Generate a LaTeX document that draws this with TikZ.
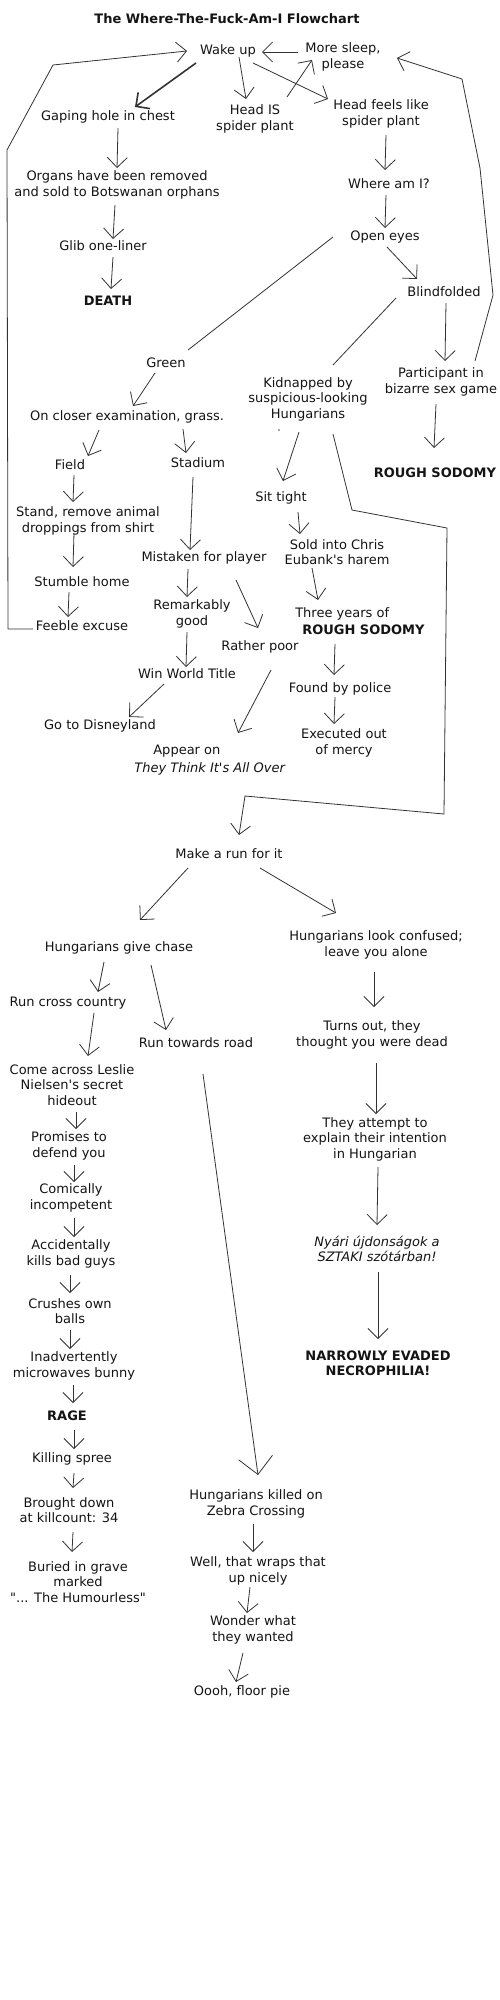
\documentclass[tikz,border=0pt]{standalone}
\usepackage{fontspec}
\newfontfamily\flowfont{DejaVu Sans}
\newcommand{\chartfont}{\flowfont\fontsize{13}{15.5}\selectfont}
\usetikzlibrary{arrows.meta,calc}

\begin{document}
\begin{tikzpicture}[
    x=1pt,y=-1pt,
    lbl/.style={align=center,inner sep=2pt,text=black!92,font=\chartfont},
    arr/.style={->,draw=black!80,line width=0.8pt,line join=round},
    plain/.style={draw=black!80,line width=0.8pt},
    big/.style={>={Straight Barb[length=17pt,width=34pt]}},
    >={Straight Barb[length=10pt,width=20pt]}
]
\fill[white] (0,0) rectangle (500,2000);
\useasboundingbox (0,0) rectangle (500,2000);

% top: waking up
\node[lbl] (title) at (227,19) {\textbf{The Where-The-Fuck-Am-I Flowchart}};
\node[lbl] (wake) at (228,51) {Wake up};
\node[lbl] (sleep) at (343,57) {More sleep,\\please};
\node[lbl] (gaping) at (108,117) {Gaping hole in chest};
\node[lbl] (headis) at (255,119) {Head IS\\spider plant};
\node[lbl] (headfeels) at (381,114) {Head feels like\\spider plant};
\node[lbl] (organs) at (117,185) {Organs have been removed\\and sold to Botswanan orphans};
\node[lbl] (where) at (389,184) {Where am I?};
\node[lbl] (glib) at (103,246) {Glib one-liner};
\node[lbl] (open) at (385,237) {Open eyes};
\node[lbl] (death) at (108,301) {\textbf{DEATH}};
\node[lbl] (blind) at (444,292) {Blindfolded};

% green / blindfolded branches
\node[lbl] (green) at (166,363) {Green};
\node[lbl] (kidnap) at (308,399) {Kidnapped by\\suspicious-looking\\Hungarians};
\node[lbl] (part) at (441,382) {Participant in\\bizarre sex game};
\node[lbl] (closer) at (127,417) {On closer examination, grass.};
\node[lbl] (field) at (70,465) {Field};
\node[lbl] (stadium) at (198,463) {Stadium};
\node[lbl] (sodomy) at (435,473) {\textbf{ROUGH SODOMY}};
\fill[black!70] (279,430) circle (0.9);
\node[lbl] (sit) at (281,498) {Sit tight};
\node[lbl] (stand) at (88,521) {Stand, remove animal\\droppings from shirt};
\node[lbl] (mistaken) at (204,558) {Mistaken for player};
\node[lbl] (sold) at (337,552) {Sold into Chris\\Eubank's harem};
\node[lbl] (stumble) at (82,582) {Stumble home};
\node[lbl] (remark) at (192,614) {Remarkably\\good};
\node[lbl,align=left] (three) at (360,621) {Three years of\\[2pt]\hspace*{7pt}\textbf{ROUGH SODOMY}};
\node[lbl] (feeble) at (82,626) {Feeble excuse};
\node[lbl] (poor) at (260,647) {Rather poor};
\node[lbl] (win) at (187,674) {Win World Title};
\node[lbl] (police) at (340,689) {Found by police};
\node[lbl] (disney) at (100,726) {Go to Disneyland};
\node[lbl] (executed) at (344,743) {Executed out\\of mercy};
\node[lbl,align=left] (appear) at (210,760) {\hspace*{19pt}Appear on\\[2pt]\textit{They Think It's All Over}};

% the escape
\node[lbl] (run) at (229,854) {Make a run for it};
\node[lbl] (chase) at (119,948) {Hungarians give chase};
\node[lbl] (confused) at (376,945) {Hungarians look confused;\\leave you alone};
\node[lbl] (cross) at (68,1003) {Run cross country};
\node[lbl] (road) at (196,1043) {Run towards road};
\node[lbl] (dead) at (372,1035) {Turns out, they\\thought you were dead};
\node[lbl] (leslie) at (72,1085) {Come across Leslie\\Nielsen's secret\\hideout};
\node[lbl] (explain) at (375,1139) {They attempt to\\explain their intention\\in Hungarian};
\node[lbl] (promise) at (69,1146) {Promises to\\defend you};
\node[lbl] (comic) at (71,1198) {Comically\\incompetent};
\node[lbl,font=\chartfont\itshape] (sztaki) at (377,1249) {Nyári újdonságok a\\SZTAKI szótárban!};
\node[lbl] (kills) at (71,1254) {Accidentally\\kills bad guys};
\node[lbl] (balls) at (70,1311) {Crushes own\\balls};
\node[lbl] (bunny) at (74,1366) {Inadvertently\\microwaves bunny};
\node[lbl,font=\chartfont\bfseries] (necro) at (378,1363) {NARROWLY EVADED\\NECROPHILIA!};
\node[lbl] (rage) at (67,1416) {\textbf{RAGE}};
\node[lbl] (spree) at (72,1459) {Killing spree};
\node[lbl] (killcount) at (69,1510) {Brought down\\at killcount: 34};
\node[lbl] (zebra) at (256,1504) {Hungarians killed on\\Zebra Crossing};
\node[lbl] (grave) at (78,1582) {Buried in grave\\marked\\"... The Humourless"};
\node[lbl] (wraps) at (258,1571) {Well, that wraps that\\up nicely};
\node[lbl] (wonder) at (253,1630) {Wonder what\\they wanted};
\node[lbl] (pie) at (242,1692) {Oooh, floor pie};

% connectors
\draw[arr] ($(feeble)+(-49,3)$) -- (8,629) -- (7,150) -- (53,65) -- ($(wake)+(-41,0)$);
\draw[arr] ($(sleep)+(-45,-5)$) -- ($(wake)+(34,1)$);
\draw[arr,line width=1.6pt] ($(wake)+(-32,12)$) -- ($(gaping)+(27,-10)$);
\draw[arr] ($(wake)+(11,6)$) -- ($(headis)+(-9,-20)$);
\draw[arr] ($(headis)+(32,-22)$) -- ($(sleep)+(-31,3)$);
\draw[arr] ($(wake)+(25,12)$) -- ($(headfeels)+(-53,-15)$);
\draw[arr] ($(part)+(34,-21)$) -- (493,295) -- (480,168) -- (462,79) -- ($(sleep)+(54,1)$);
\draw[arr] ($(headfeels)+(5,21)$) -- ($(where)+(-4,-14)$);
\draw[arr] ($(gaping)+(10,11)$) -- ($(organs)+(0,-17)$);
\draw[arr] ($(organs)+(-2,20)$) -- ($(glib)+(10,-7)$);
\draw[arr] ($(glib)+(10,11)$) -- ($(death)+(3,-12)$);
\draw[arr] ($(where)+(-3,11)$) -- ($(open)+(0,-9)$);
\draw[arr] ($(open)+(2,10)$) -- ($(blind)+(-27,-13)$);
\draw[plain] ($(open)+(-52,0)$) -- ($(green)+(22,-13)$);
\draw[plain] ($(blind)+(-48,6)$) -- ($(kidnap)+(25,-34)$);
\draw[arr] ($(blind)+(2,11)$) -- ($(part)+(4,-21)$);
\draw[arr] ($(green)+(-11,10)$) -- ($(closer)+(6,-11)$);
\draw[arr] ($(closer)+(-28,13)$) -- ($(field)+(18,-9)$);
\draw[arr] ($(closer)+(56,12)$) -- ($(stadium)+(-12,-10)$);
\draw[arr] ($(part)+(-5,22)$) -- ($(sodomy)+(-1,-25)$);
\draw[arr] ($(kidnap)+(-9,33)$) -- ($(sit)+(2,-17)$);
\draw[arr] ($(kidnap)+(25,35)$) -- (352,510) -- (447,528) -- (444,814) -- (245,796) -- ($(run)+(10,-19)$);
\draw[arr] ($(field)+(4,10)$) -- ($(stand)+(-15,-19)$);
\draw[arr] ($(stand)+(-14,12)$) -- ($(stumble)+(-9,-15)$);
\draw[arr] ($(stumble)+(-13,10)$) -- ($(feeble)+(-14,-9)$);
\draw[arr] ($(stadium)+(-5,14)$) -- ($(mistaken)+(-14,-8)$);
\draw[arr] ($(sit)+(17,14)$) -- ($(sold)+(-37,-18)$);
\draw[arr] ($(mistaken)+(-16,11)$) -- ($(remark)+(-5,-17)$);
\draw[arr] ($(mistaken)+(32,22)$) -- ($(poor)+(-2,-19)$);
\draw[arr] ($(sold)+(-25,16)$) -- ($(three)+(-42,-21)$);
\draw[arr] ($(remark)+(-5,18)$) -- ($(win)+(-1,-7)$);
\draw[arr] ($(three)+(-25,23)$) -- ($(police)+(-6,-14)$);
\draw[arr] ($(win)+(-23,10)$) -- ($(disney)+(29,-9)$);
\draw[arr] ($(poor)+(11,23)$) -- ($(appear)+(28,-27)$);
\draw[arr] ($(police)+(-5,8)$) -- ($(executed)+(-10,-19)$);
\draw[arr] ($(run)+(-41,14)$) -- ($(chase)+(21,-28)$);
\draw[arr] ($(run)+(31,14)$) -- ($(confused)+(-40,-32)$);
\draw[arr] ($(chase)+(-15,14)$) -- ($(cross)+(30,-11)$);
\draw[arr] ($(chase)+(32,17)$) -- ($(road)+(-30,-13)$);
\draw[arr] ($(confused)+(-2,27)$) -- ($(dead)+(2,-28)$);
\draw[arr] ($(cross)+(26,10)$) -- ($(leslie)+(16,-29)$);
\draw[big,arr] ($(road)+(7,31)$) -- ($(zebra)+(2,-29)$);
\draw[arr] ($(dead)+(4,28)$) -- ($(explain)+(1,-25)$);
\draw[arr] ($(leslie)+(4,27)$) -- ($(promise)+(7,-17)$);
\draw[arr] ($(promise)+(5,19)$) -- ($(comic)+(3,-16)$);
\draw[arr] ($(explain)+(3,28)$) -- ($(sztaki)+(0,-24)$);
\draw[arr] ($(comic)+(3,20)$) -- ($(kills)+(3,-17)$);
\draw[arr] ($(kills)+(-1,21)$) -- ($(balls)+(0,-18)$);
\draw[arr] ($(sztaki)+(1,23)$) -- ($(necro)+(0,-24)$);
\draw[arr] ($(balls)+(0,19)$) -- ($(bunny)+(-4,-17)$);
\draw[arr] ($(bunny)+(-1,19)$) -- ($(rage)+(6,-13)$);
\draw[arr] ($(rage)+(7,14)$) -- ($(spree)+(2,-10)$);
\draw[arr] ($(spree)+(2,14)$) -- ($(killcount)+(4,-22)$);
\draw[arr] ($(killcount)+(4,22)$) -- ($(grave)+(-6,-30)$);
\draw[arr] ($(zebra)+(-3,20)$) -- ($(wraps)+(-5,-19)$);
\draw[arr] ($(wraps)+(-8,16)$) -- ($(wonder)+(-6,-17)$);
\draw[arr] ($(wonder)+(-10,23)$) -- ($(pie)+(-6,-10)$);
\end{tikzpicture}
\end{document}
